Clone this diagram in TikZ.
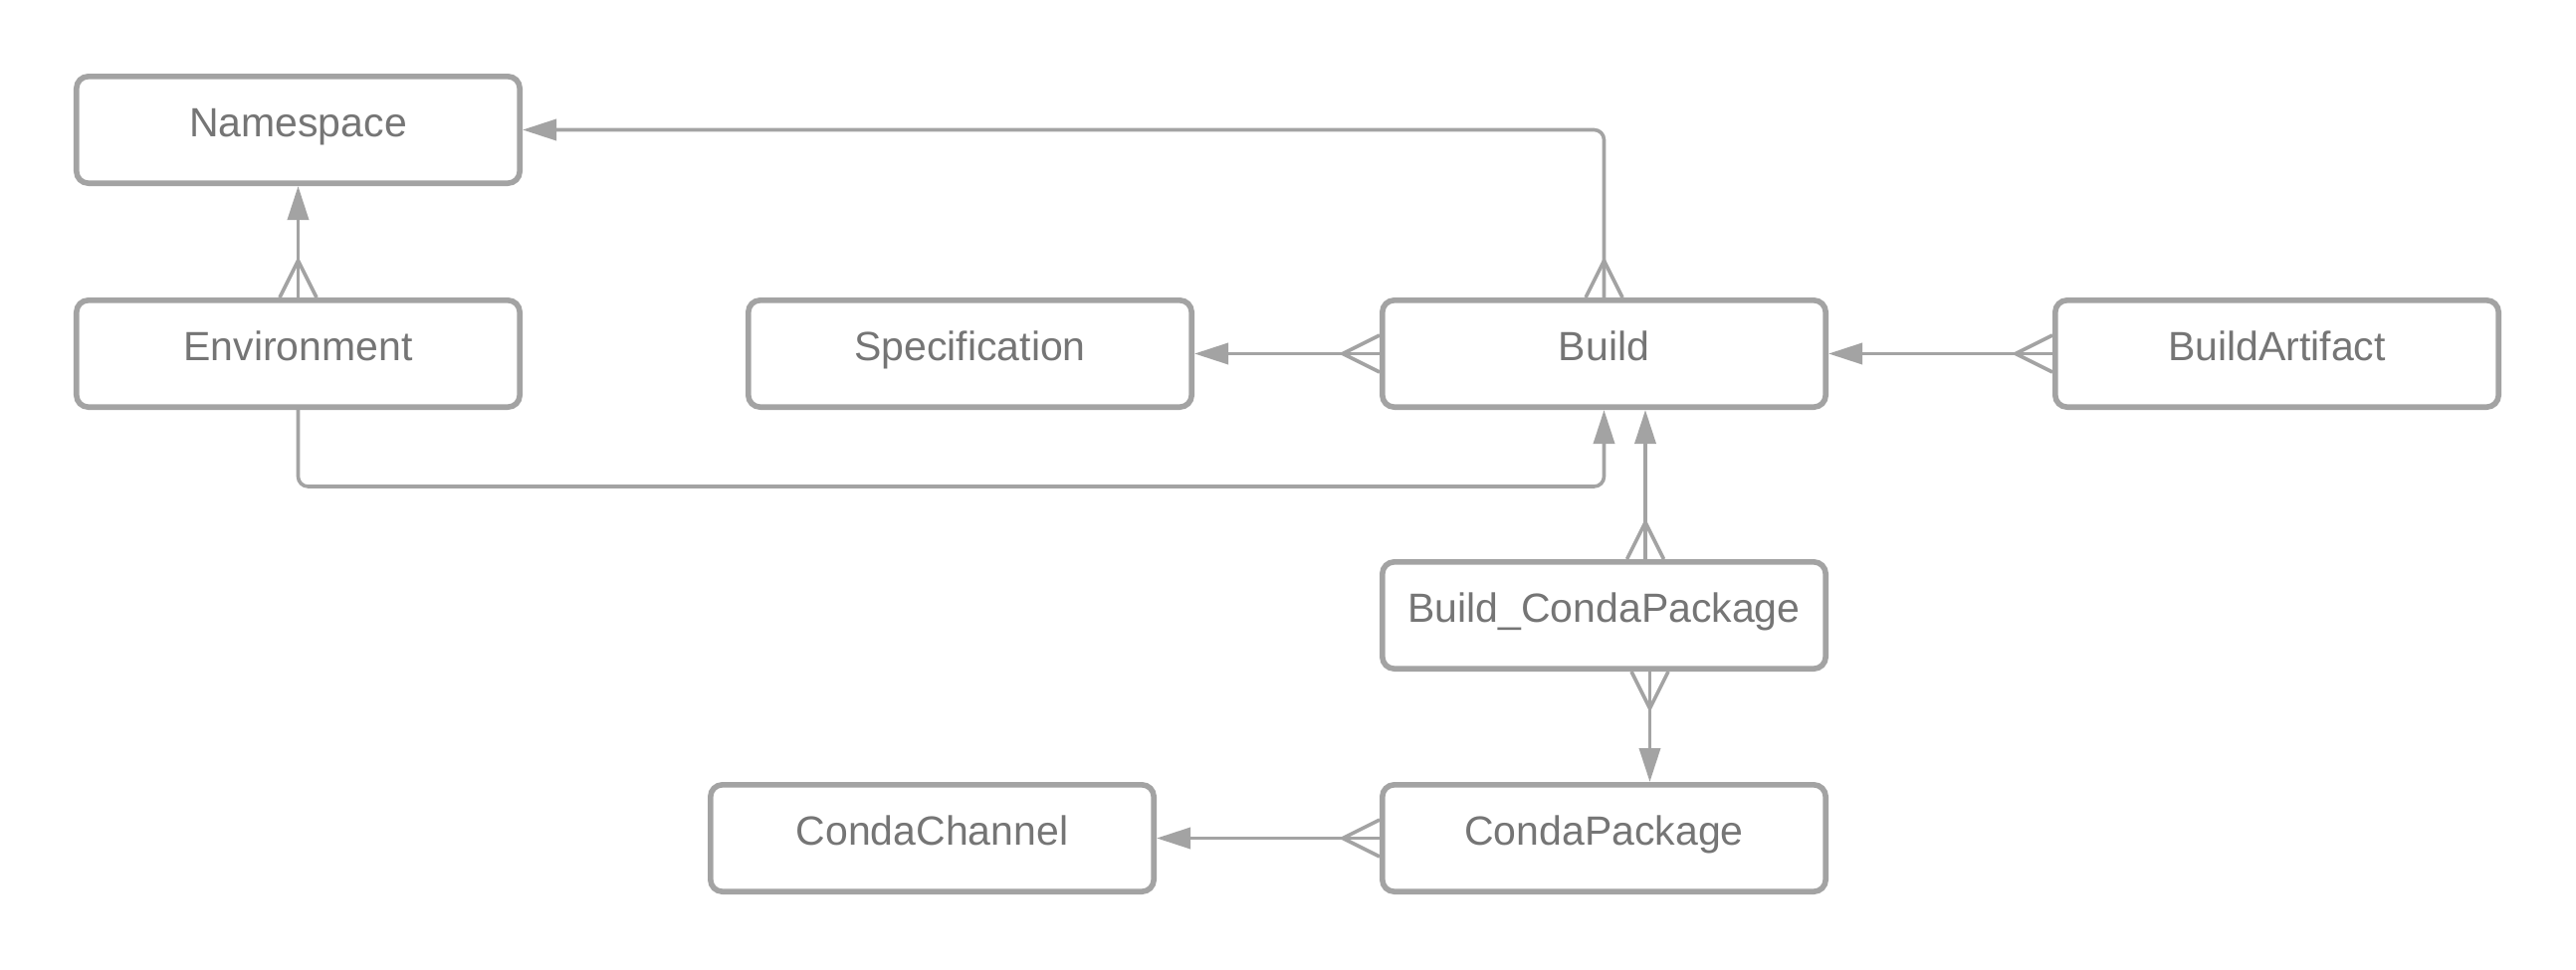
\documentclass[tikz,border=0pt]{standalone}
\usepackage{fontspec}
\setmainfont{Liberation Sans}
\usetikzlibrary{arrows.meta,positioning}

\definecolor{linegray}{RGB}{163,163,163}
\definecolor{textgray}{RGB}{117,117,117}

\pgfdeclarearrow{
  name = Crow,
  parameters = {\the\pgfarrowlength,\the\pgfarrowwidth},
  setup code = {
    \pgfarrowssettipend{0pt}
    \pgfarrowssetlineend{0pt}
    \pgfarrowssetbackend{-\pgfarrowlength}
    \pgfarrowssetvisualbackend{-\pgfarrowlength}
    \pgfarrowshullpoint{0pt}{.5\pgfarrowwidth}
    \pgfarrowshullpoint{0pt}{-.5\pgfarrowwidth}
    \pgfarrowshullpoint{-\pgfarrowlength}{0pt}
    \pgfarrowssavethe\pgfarrowlength
    \pgfarrowssavethe\pgfarrowwidth
  },
  drawing code = {
    \pgfsetdash{}{0pt}
    \pgfpathmoveto{\pgfqpoint{0pt}{.5\pgfarrowwidth}}
    \pgfpathlineto{\pgfqpoint{-\pgfarrowlength}{0pt}}
    \pgfpathlineto{\pgfqpoint{0pt}{-.5\pgfarrowwidth}}
    \pgfusepathqstroke
  },
  defaults = {length = 18.5pt, width = 18.5pt}
}

\begin{document}
\begin{tikzpicture}[
  font=\fontsize{20.5pt}{24pt}\selectfont,
  entity/.style={draw=linegray, line width=2.8pt, rounded corners=6pt, fill=white, text=textgray,
    minimum width=222.7pt, minimum height=53.7pt, text height=0.85em, text depth=0.12em, inner sep=0pt},
  link/.style={draw=linegray, line width=1.8pt, rounded corners=5pt},
  one/.style={-{Triangle[length=17pt, width=10.5pt]}},
  many/.style={{Crow}-{Triangle[length=17pt, width=10.5pt]}}
]
\useasboundingbox (-149.75pt,65.25pt) rectangle (1144.25pt,-422.25pt);

\node[entity] (namespace) at (0,0) {Namespace};
\node[entity, below=56pt of namespace] (environment) {Environment};
\node[entity, right=112pt of environment] (specification) {Specification};
\node[entity, right=93pt of specification] (build) {Build};
\node[entity, right=112.5pt of build] (artifact) {BuildArtifact};
\node[entity, below=75pt of build] (buildpkg) {Build\_CondaPackage};
\node[entity, below=55.5pt of buildpkg] (package) {CondaPackage};
\node[entity, left=112pt of package] (channel) {CondaChannel};

\draw[link, many] (environment) -- (namespace);
\draw[link, many] (build.north) |- (namespace.east);
\draw[link, many] (build) -- (specification);
\draw[link, many] (artifact) -- (build);
\draw[link, one] (environment.south) -- ++(0,-38.5pt) -| (build.south);
\draw[link, many] ([xshift=20.75pt]buildpkg.north) -- ([xshift=20.75pt]build.south);
\draw[link, many] ([xshift=23pt]buildpkg.south) -- ([xshift=23pt]package.north);
\draw[link, many] (package) -- (channel);
\end{tikzpicture}
\end{document}
